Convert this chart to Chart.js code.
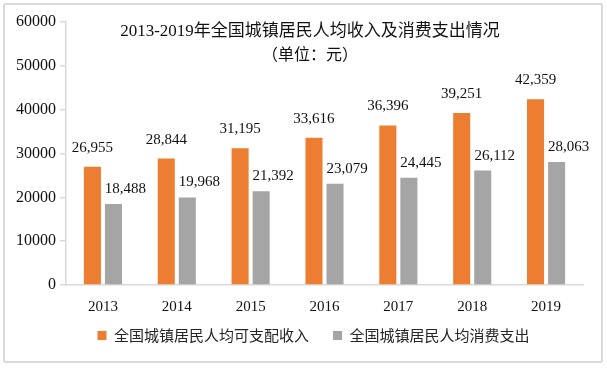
<!DOCTYPE html>
<html>
<head>
<meta charset="utf-8">
<script src="https://cdn.jsdelivr.net/npm/chart.js@4"></script>
<style>
  html, body { margin: 0; padding: 0; background: #fff; }
  #wrap { position: relative; width: 607px; height: 368px; }
  #frame { position: absolute; left: 3px; top: 3px; width: 600px; height: 360px; box-sizing: border-box; border: 2px solid #d9d9d9; border-radius: 3px; pointer-events: none; }
  canvas { position: absolute; left: 0; top: 0; }
</style>
</head>
<body>
<div id="wrap">
  <canvas id="chart" width="607" height="368"></canvas>
  <div id="frame"></div>
</div>
<script>
// chart data
const years = ['2013', '2014', '2015', '2016', '2017', '2018', '2019'];
const incomeValues = [26955, 28844, 31195, 33616, 36396, 39251, 42359];
const spendingValues = [18488, 19968, 21392, 23079, 24445, 26112, 28063];
const seriesNames = ['全国城镇居民人均可支配收入', '全国城镇居民人均消费支出'];
const titleLines = ['2013-2019年全国城镇居民人均收入及消费支出情况', '（单位：元）'];

const SERIF = "'Liberation Serif', 'Times New Roman', 'Noto Sans CJK SC', serif";
const CJK = "'Noto Sans CJK SC', sans-serif";

// title sits over the plot area in the original, so draw it by hand
const titlePlugin = {
  id: 'overTitle',
  afterDraw(chart) {
    const ctx = chart.ctx;
    ctx.save();
    ctx.fillStyle = '#111';
    ctx.textAlign = 'center';
    ctx.textBaseline = 'middle';
    ctx.font = '17px ' + SERIF;
    ctx.fillText(titleLines[0], 310, 32);
    ctx.font = '16px ' + CJK;
    ctx.fillText(titleLines[1], 310, 54);
    ctx.restore();
  }
};

// legend sits a bit right of centre and closer to the axis in the original
const legendShift = {
  id: 'legendShift',
  afterLayout(chart) {
    const lg = chart.legend;
    if (!lg) return;
    lg.left += 22;
    lg.right += 22;
    lg.top -= 12;
    lg.bottom -= 12;
  }
};

// value labels above the bars
const valueLabels = {
  id: 'valueLabels',
  afterDatasetsDraw(chart) {
    const ctx = chart.ctx;
    ctx.save();
    ctx.fillStyle = '#111';
    ctx.font = '15px ' + SERIF;
    ctx.textAlign = 'center';
    ctx.textBaseline = 'alphabetic';
    chart.data.datasets.forEach((ds, i) => {
      const meta = chart.getDatasetMeta(i);
      meta.data.forEach((bar, j) => {
        const txt = ds.data[j].toLocaleString('en-US');
        const dx = i === 0 ? 0 : 12;
        const dy = i === 0 ? 15 : 11;
        ctx.fillText(txt, bar.x + dx, bar.y - dy);
      });
    });
    ctx.restore();
  }
};

new Chart(document.getElementById('chart'), {
  type: 'bar',
  data: {
    labels: years,
    datasets: [
      { label: seriesNames[0], data: incomeValues, backgroundColor: '#ED7D31', barPercentage: 0.81, categoryPercentage: 0.57 },
      { label: seriesNames[1], data: spendingValues, backgroundColor: '#A5A5A5', barPercentage: 0.81, categoryPercentage: 0.57 }
    ]
  },
  options: {
    responsive: false,
    animation: false,
    layout: { padding: { left: 0, right: 24, top: 22, bottom: 3 } },
    plugins: {
      legend: {
        position: 'bottom',
        labels: {
          boxWidth: 9,
          boxHeight: 9,
          padding: 24,
          color: '#262626',
          font: { family: CJK, size: 15 }
        }
      },
      title: { display: false },
      tooltip: { enabled: false }
    },
    scales: {
      x: {
        afterFit(scale) { scale.height = 31; },
        grid: { display: false, drawTicks: false },
        border: { color: '#d9d9d9', width: 1.5 },
        ticks: { color: '#111', padding: 13, font: { family: SERIF, size: 15 } }
      },
      y: {
        min: 0,
        max: 60000,
        afterFit(scale) { scale.width = 66; },
        grid: { drawOnChartArea: false, color: '#d9d9d9', tickLength: 6, lineWidth: 1.5 },
        border: { color: '#d9d9d9', width: 1.5 },
        ticks: { stepSize: 10000, color: '#111', padding: 4, font: { family: SERIF, size: 16 }, callback: v => String(v) }
      }
    }
  },
  plugins: [titlePlugin, legendShift, valueLabels]
});
</script>
</body>
</html>
